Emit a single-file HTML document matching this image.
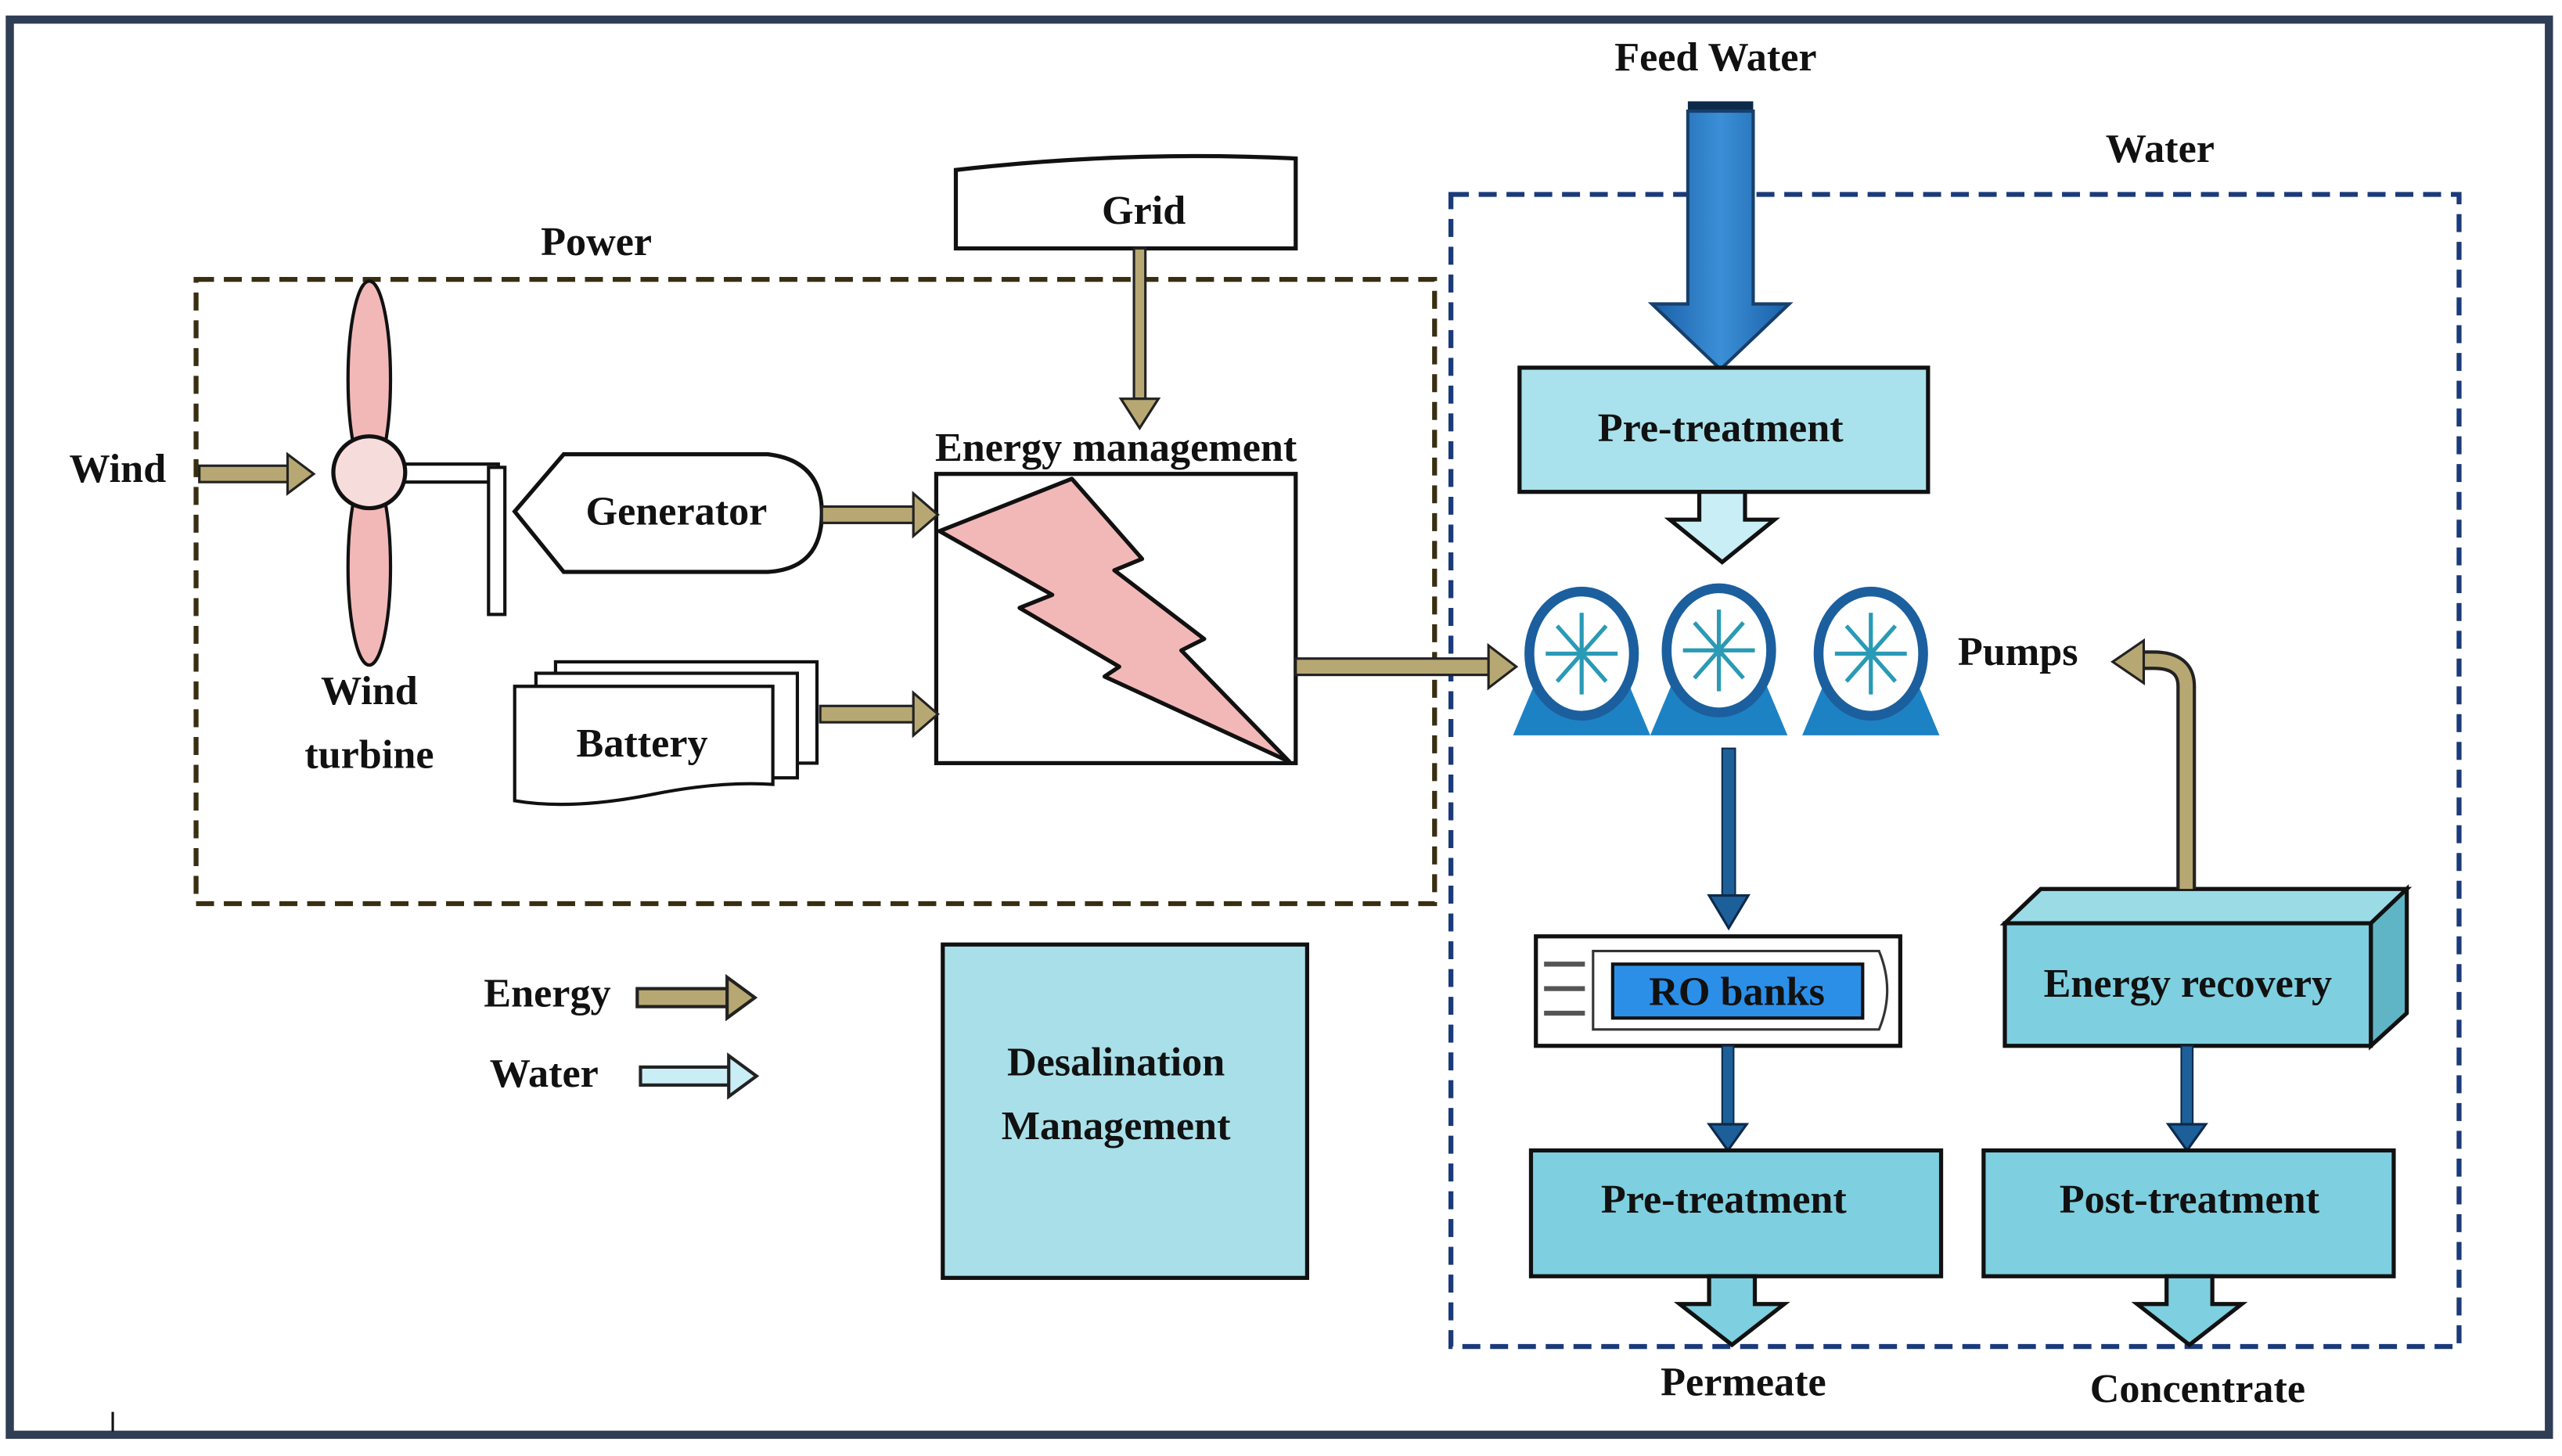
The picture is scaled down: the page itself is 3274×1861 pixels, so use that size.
<!DOCTYPE html>
<html><head><meta charset="utf-8"><style>html,body{margin:0;padding:0;background:#fff}svg{display:block}text{font-family:"Liberation Serif",serif;font-weight:bold;fill:#111}</style></head>
<body>
<svg width="3274" height="1861" viewBox="0 0 1568 891" preserveAspectRatio="none" xmlns="http://www.w3.org/2000/svg">
<defs>
<linearGradient id="blu" x1="0" x2="1"><stop offset="0" stop-color="#1a5fa8"/><stop offset="0.5" stop-color="#3b8fd6"/><stop offset="1" stop-color="#1a5fa8"/></linearGradient>
</defs>
<rect x="0" y="0" width="1568" height="891" fill="#fff"/>
<rect x="6" y="12" width="1554" height="866" fill="none" stroke="#2f3e55" stroke-width="5"/>
<rect x="120" y="171" width="758" height="382" fill="none" stroke="#3a2e12" stroke-width="3" stroke-dasharray="11 6"/>
<rect x="888" y="119" width="617" height="705" fill="none" stroke="#1a3a7a" stroke-width="3" stroke-dasharray="11 6"/>
<text x="365" y="156" font-size="25" text-anchor="middle">Power</text>
<text x="1322" y="99" font-size="25" text-anchor="middle">Water</text>
<text x="1050" y="43" font-size="25" text-anchor="middle">Feed Water</text>
<rect x="1033" y="62" width="40" height="6" fill="#0d2a4a"/>
<path d="M1033,68 L1073,68 L1073,186 L1095,186 L1053,226 L1011,186 L1033,186 Z" fill="url(#blu)" stroke="#163f6b" stroke-width="2"/>
<path d="M585,104 Q690,92 793,97 L793,152 L585,152 Z" fill="#fff" stroke="#111" stroke-width="2.5"/>
<text x="700" y="137" font-size="25" text-anchor="middle">Grid</text>
<rect x="694" y="152" width="7" height="92" fill="#b7a873" stroke="#222" stroke-width="1.5"/>
<path d="M686,244 L709,244 L697.5,262 Z" fill="#b7a873" stroke="#222" stroke-width="1.5"/>
<text x="683" y="282" font-size="25" text-anchor="middle">Energy management</text>
<rect x="573" y="290" width="220" height="177" fill="#fff" stroke="#111" stroke-width="2.5"/>
<path d="M575,325 L656,293 L699,342 L682,349 L737,391 L723,398 L789,466 L676,414 L685,408 L624,372 L644,364 Z" fill="#f2b8b8" stroke="#111" stroke-width="2.5" stroke-linejoin="round"/>
<text x="72" y="295" font-size="25" text-anchor="middle">Wind</text>
<rect x="122" y="285" width="56" height="10" fill="#b7a873" stroke="#222" stroke-width="1.5"/>
<path d="M176,278 L192,290 L176,302 Z" fill="#b7a873" stroke="#222" stroke-width="1.5"/>
<ellipse cx="226" cy="232" rx="13" ry="60" fill="#f2b8b8" stroke="#111" stroke-width="2"/>
<ellipse cx="226" cy="347" rx="13" ry="60" fill="#f2b8b8" stroke="#111" stroke-width="2"/>
<rect x="247" y="284" width="58" height="11" fill="#fff" stroke="#111" stroke-width="2"/>
<rect x="299" y="286" width="10" height="90" fill="#fff" stroke="#111" stroke-width="2"/>
<circle cx="226" cy="289" r="22" fill="#f7dcdc" stroke="#111" stroke-width="2.5"/>
<text x="226" y="431" font-size="25" text-anchor="middle">Wind</text>
<text x="226" y="470" font-size="25" text-anchor="middle">turbine</text>
<path d="M315,313 L345,278 L470,278 Q503,282 503,314 Q503,348 470,350 L345,350 Z" fill="#fff" stroke="#111" stroke-width="2.5"/>
<text x="414" y="321" font-size="25" text-anchor="middle">Generator</text>
<rect x="503" y="310" width="58" height="10" fill="#b7a873" stroke="#222" stroke-width="1.5"/>
<path d="M559,302 L574,315 L559,328 Z" fill="#b7a873" stroke="#222" stroke-width="1.5"/>
<rect x="340" y="405" width="160" height="62" fill="#fff" stroke="#111" stroke-width="2"/>
<rect x="328" y="412" width="160" height="64" fill="#fff" stroke="#111" stroke-width="2"/>
<path d="M315,420 L473,420 L473,480 Q440,478 400,486 Q350,496 315,490 Z" fill="#fff" stroke="#111" stroke-width="2"/>
<text x="393" y="463" font-size="25" text-anchor="middle">Battery</text>
<rect x="502" y="432" width="59" height="10" fill="#b7a873" stroke="#222" stroke-width="1.5"/>
<path d="M559,424 L574,437 L559,450 Z" fill="#b7a873" stroke="#222" stroke-width="1.5"/>
<rect x="793" y="403" width="120" height="10" fill="#b7a873" stroke="#222" stroke-width="1.5"/>
<path d="M911,395 L928,408 L911,421 Z" fill="#b7a873" stroke="#222" stroke-width="1.5"/>
<rect x="930" y="225" width="250" height="76" fill="#a9e2ec" stroke="#111" stroke-width="2.5"/>
<text x="1053" y="270" font-size="25" text-anchor="middle">Pre-treatment</text>
<path d="M1040,301 L1068,301 L1068,318 L1086,318 L1054,344 L1022,318 L1040,318 Z" fill="#c9eef5" stroke="#111" stroke-width="2.5"/>
<g>
<g transform="translate(968,0)"><path d="M-42,450 L-26,412 L26,412 L42,450 Z" fill="#1d82c4"/><ellipse cx="0" cy="400" rx="32" ry="38" fill="#fff" stroke="#1b5f9e" stroke-width="6"/><g stroke="#2a9ab5" stroke-width="2.5"><line x1="-22" y1="400" x2="22" y2="400"/><line x1="0" y1="375" x2="0" y2="425"/><line x1="-15" y1="383" x2="15" y2="417"/><line x1="15" y1="383" x2="-15" y2="417"/></g></g>
<g transform="translate(1052,0)"><path d="M-42,450 L-26,412 L26,412 L42,450 Z" fill="#1d82c4"/><ellipse cx="0" cy="398" rx="32" ry="38" fill="#fff" stroke="#1b5f9e" stroke-width="6"/><g stroke="#2a9ab5" stroke-width="2.5"><line x1="-22" y1="398" x2="22" y2="398"/><line x1="0" y1="373" x2="0" y2="423"/><line x1="-15" y1="381" x2="15" y2="415"/><line x1="15" y1="381" x2="-15" y2="415"/></g></g>
<g transform="translate(1145,0)"><path d="M-42,450 L-26,412 L26,412 L42,450 Z" fill="#1d82c4"/><ellipse cx="0" cy="400" rx="32" ry="38" fill="#fff" stroke="#1b5f9e" stroke-width="6"/><g stroke="#2a9ab5" stroke-width="2.5"><line x1="-22" y1="400" x2="22" y2="400"/><line x1="0" y1="375" x2="0" y2="425"/><line x1="-15" y1="383" x2="15" y2="417"/><line x1="15" y1="383" x2="-15" y2="417"/></g></g>
</g>
<text x="1235" y="407" font-size="25" text-anchor="middle">Pumps</text>
<rect x="1054" y="458" width="8" height="92" fill="#1d5f99" stroke="#0d2a4a" stroke-width="1"/>
<path d="M1046,548 L1070,548 L1058,568 Z" fill="#1d5f99" stroke="#0d2a4a" stroke-width="1.5"/>
<rect x="940" y="573" width="223" height="67" fill="#fff" stroke="#111" stroke-width="2.5"/>
<path d="M975,582 L1150,582 Q1160,606 1150,630 L975,630 Z" fill="#fff" stroke="#333" stroke-width="1.5"/>
<g stroke="#555" stroke-width="3"><line x1="945" y1="590" x2="970" y2="590"/><line x1="945" y1="605" x2="970" y2="605"/><line x1="945" y1="620" x2="970" y2="620"/></g>
<rect x="987" y="590" width="153" height="33" fill="#2b8fe8" stroke="#111" stroke-width="2"/>
<text x="1063" y="615" font-size="25" text-anchor="middle">RO banks</text>
<path d="M1227,565 L1249,544 L1473,544 L1451,565 Z" fill="#9adbe6" stroke="#111" stroke-width="2.5"/>
<path d="M1451,565 L1473,544 L1473,620 L1451,640 Z" fill="#5fb5c5" stroke="#111" stroke-width="2.5"/>
<rect x="1227" y="565" width="224" height="75" fill="#7ecfdf" stroke="#111" stroke-width="2.5"/>
<text x="1339" y="610" font-size="25" text-anchor="middle">Energy recovery</text>
<path d="M1338,544 L1338,420 Q1338,404 1318,404 L1310,404" fill="none" stroke="#222" stroke-width="12"/>
<path d="M1338,544 L1338,420 Q1338,404 1318,404 L1310,404" fill="none" stroke="#b7a873" stroke-width="8"/>
<path d="M1312,392 L1293,405 L1312,418 Z" fill="#b7a873" stroke="#222" stroke-width="1.5"/>
<rect x="1054" y="640" width="7" height="50" fill="#1d5f99" stroke="#0d2a4a" stroke-width="1"/>
<path d="M1046,688 L1069,688 L1057.5,704 Z" fill="#1d5f99" stroke="#0d2a4a" stroke-width="1.5"/>
<rect x="1335" y="640" width="7" height="50" fill="#1d5f99" stroke="#0d2a4a" stroke-width="1"/>
<path d="M1327,688 L1350,688 L1338.5,704 Z" fill="#1d5f99" stroke="#0d2a4a" stroke-width="1.5"/>
<rect x="937" y="704" width="251" height="77" fill="#7ecfdf" stroke="#111" stroke-width="2.5"/>
<text x="1055" y="742" font-size="25" text-anchor="middle">Pre-treatment</text>
<rect x="1214" y="704" width="251" height="77" fill="#7ecfdf" stroke="#111" stroke-width="2.5"/>
<text x="1340" y="742" font-size="25" text-anchor="middle">Post-treatment</text>
<path d="M1046,781 L1074,781 L1074,798 L1092,798 L1060,823 L1028,798 L1046,798 Z" fill="#7ecfdf" stroke="#111" stroke-width="2.5"/>
<path d="M1326,781 L1354,781 L1354,798 L1372,798 L1340,823 L1308,798 L1326,798 Z" fill="#7ecfdf" stroke="#111" stroke-width="2.5"/>
<text x="1067" y="854" font-size="25" text-anchor="middle">Permeate</text>
<text x="1345" y="858" font-size="25" text-anchor="middle">Concentrate</text>
<text x="335" y="616" font-size="25" text-anchor="middle">Energy</text>
<rect x="390" y="605" width="57" height="11" fill="#b7a873" stroke="#222" stroke-width="2"/>
<path d="M445,598 L462,610.5 L445,623 Z" fill="#b7a873" stroke="#222" stroke-width="2"/>
<text x="333" y="665" font-size="25" text-anchor="middle">Water</text>
<rect x="392" y="653" width="56" height="11" fill="#c9eef5" stroke="#222" stroke-width="2"/>
<path d="M446,646 L463,658.5 L446,671 Z" fill="#c9eef5" stroke="#222" stroke-width="2"/>
<rect x="577" y="578" width="223" height="204" fill="#a9dfe8" stroke="#111" stroke-width="2.5"/>
<text x="683" y="658" font-size="25" text-anchor="middle">Desalination</text>
<text x="683" y="697" font-size="25" text-anchor="middle">Management</text>
<line x1="69" y1="864" x2="69" y2="876" stroke="#111" stroke-width="1.5"/>
</svg>
</body></html>
